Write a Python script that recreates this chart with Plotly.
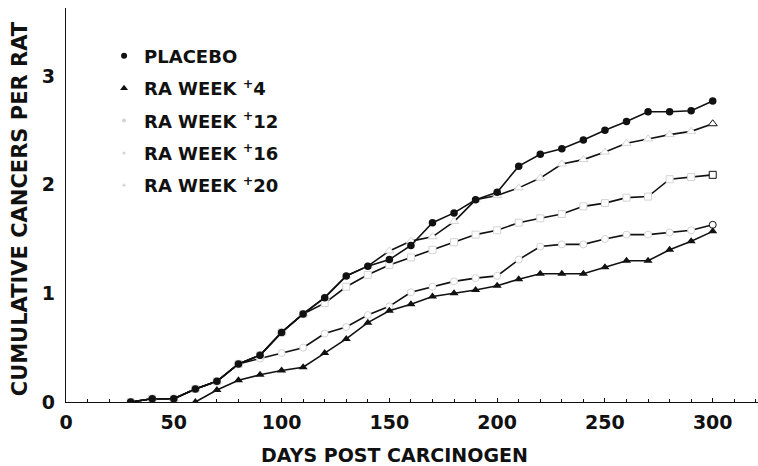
import plotly.graph_objects as go

# Days after carcinogen dosing at which tumours were counted
days = [30, 40, 50, 60, 70, 80, 90, 100, 110, 120, 130, 140, 150, 160, 170,
        180, 190, 200, 210, 220, 230, 240, 250, 260, 270, 280, 290, 300]
days_ra4 = days[3:]

# Cumulative cancers per rat for each group
placebo = [0.00, 0.03, 0.03, 0.12, 0.19, 0.35, 0.43, 0.64, 0.81, 0.96, 1.16, 1.25,
           1.31, 1.44, 1.65, 1.74, 1.86, 1.93, 2.17, 2.28, 2.33, 2.41, 2.50, 2.58,
           2.67, 2.67, 2.68, 2.77]
ra_week4 = [0.00, 0.11, 0.20, 0.25, 0.29, 0.32, 0.45, 0.58, 0.73, 0.84, 0.90, 0.97,
            1.00, 1.03, 1.07, 1.13, 1.18, 1.18, 1.18, 1.24, 1.30, 1.30, 1.40, 1.48,
            1.57]
ra_week12 = [0.00, 0.03, 0.03, 0.12, 0.19, 0.35, 0.40, 0.45, 0.50, 0.63, 0.69, 0.80,
             0.88, 1.01, 1.06, 1.11, 1.14, 1.16, 1.31, 1.43, 1.45, 1.45, 1.50, 1.54,
             1.54, 1.56, 1.58, 1.63]
ra_week16 = [0.00, 0.03, 0.03, 0.12, 0.19, 0.35, 0.43, 0.64, 0.81, 0.91, 1.06, 1.17,
             1.26, 1.33, 1.40, 1.47, 1.54, 1.58, 1.65, 1.69, 1.73, 1.80, 1.83, 1.88,
             1.89, 2.05, 2.07, 2.09]
ra_week20 = [0.00, 0.03, 0.03, 0.12, 0.19, 0.35, 0.43, 0.64, 0.81, 0.96, 1.16, 1.25,
             1.39, 1.48, 1.52, 1.66, 1.86, 1.90, 1.97, 2.06, 2.19, 2.23, 2.30, 2.38,
             2.42, 2.46, 2.49, 2.56]

labels = ["PLACEBO", "RA WEEK <sup>+</sup>4", "RA WEEK <sup>+</sup>12",
          "RA WEEK <sup>+</sup>16", "RA WEEK <sup>+</sup>20"]
x_ticks = [0, 50, 100, 150, 200, 250, 300]
y_ticks = [0, 1, 2, 3]

FONT = "DejaVu Sans"
INK = "#111111"
FAINT = "#d4d4d4"


def bold_font(size):
    return dict(family=FONT, size=size, color=INK, weight="bold")


def open_outline(n):
    # faint outlines on the hollow markers, with the final point drawn dark
    return [FAINT] * (n - 1) + [INK]


fig = go.Figure()

# Hollow-marker groups first so the filled series sit on top
for ys, sym, size in [(ra_week12, "circle", 7), (ra_week16, "square", 7),
                      (ra_week20, "triangle-up", 8)]:
    fig.add_trace(go.Scatter(
        x=days, y=ys, mode="lines+markers", showlegend=False,
        line=dict(color=INK, width=1.6),
        marker=dict(symbol=sym, size=size, color="white",
                    line=dict(color=open_outline(len(ys)), width=1)),
    ))

fig.add_trace(go.Scatter(
    x=days_ra4, y=ra_week4, mode="lines+markers", showlegend=False,
    line=dict(color=INK, width=1.6),
    marker=dict(symbol="triangle-up", size=8, color=INK),
))
fig.add_trace(go.Scatter(
    x=days, y=placebo, mode="lines+markers", showlegend=False,
    line=dict(color=INK, width=1.6),
    marker=dict(symbol="circle", size=7.5, color=INK),
))

# Legend keys: symbols only, no line
legend_styles = [("circle", 6, INK), ("triangle-up", 7, INK),
                 ("circle", 4, FAINT), ("circle", 3, FAINT), ("triangle-up", 4, FAINT)]
for i, (lab, (sym, size, col)) in enumerate(zip(labels, legend_styles)):
    fig.add_trace(go.Scatter(
        x=[None], y=[None], mode="markers", name=lab, legendgroup=str(i),
        marker=dict(symbol=sym, size=size, color=col),
    ))

axis_common = dict(showgrid=False, zeroline=False, showline=True,
                   linecolor=INK, linewidth=1.2, tickfont=bold_font(19))

fig.update_xaxes(range=[0, 321], tickvals=x_ticks, ticks="inside", ticklen=4,
                 tickcolor=INK, tickwidth=1, ticklabelstandoff=3,
                 minor=dict(ticks="inside", dtick=10, tick0=0, ticklen=3,
                            tickcolor=INK, tickwidth=1),
                 **axis_common)
fig.update_yaxes(range=[0, 3.625], tickvals=y_ticks, ticks="",
                 ticklabelstandoff=6, **axis_common)

fig.update_layout(
    width=758, height=466,
    margin=dict(l=66, r=0, t=8, b=64),
    paper_bgcolor="white", plot_bgcolor="white",
    font=bold_font(19),
    legend=dict(x=0.055, y=0.925, xanchor="left", yanchor="top",
                bgcolor="rgba(0,0,0,0)", tracegroupgap=6,
                font=bold_font(18)),
    annotations=[
        dict(text="DAYS POST CARCINOGEN", xref="paper", yref="paper",
             x=0.475, y=-0.135, xanchor="center", yanchor="middle",
             showarrow=False, font=bold_font(19)),
        dict(text="CUMULATIVE CANCERS PER RAT", xref="paper", yref="paper",
             x=-0.066, y=0.49, xanchor="center", yanchor="middle", textangle=-90,
             showarrow=False, font=bold_font(21)),
    ],
)

fig.write_html("out.html")
